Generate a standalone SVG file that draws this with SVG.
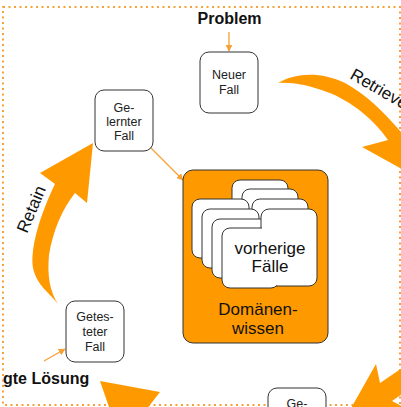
<svg xmlns="http://www.w3.org/2000/svg" width="401" height="407" viewBox="0 0 401 407">
<defs>
<style>
.node rect{fill:#fff;stroke:#333;stroke-width:1}
.t{font-family:"Liberation Sans",Arial,sans-serif;font-size:12.5px;fill:#222;text-anchor:middle}
.big{font-family:"Liberation Sans",Arial,sans-serif;font-size:17px;fill:#111;text-anchor:middle}
.lbl{font-family:"Liberation Sans",Arial,sans-serif;font-size:16px;font-weight:bold;fill:#111}
.phase{font-family:"Liberation Sans",Arial,sans-serif;font-size:17px;fill:#111}
.card{fill:#fff;stroke:#333;stroke-width:1}
.cardf{fill:#fff;stroke:none}
.bigarrow{fill:#FF9900;stroke:none}
.thin{stroke:#F7A035;stroke-width:1.3;fill:none}
</style>
<marker id="ah" viewBox="0 0 10 10" refX="9" refY="5" markerWidth="7" markerHeight="7" orient="auto" markerUnits="userSpaceOnUse">
<path d="M0,0 L10,5 L0,10 z" fill="#F7A035"/>
</marker>
</defs>
<rect width="401" height="407" fill="#fff"/>
<rect x="3" y="7" width="397" height="398" fill="none" stroke="#F6A13A" stroke-width="2" stroke-dasharray="2 3.5"/>

<g id="connectors">
<path class="bigarrow" d="M278,83 C295,73 320,71 345,83 C366,94 386,114 406,138 L425,190 L400,168 L362,147 L388,140 C375,121 352,101 327,92 C308,85 292,82 278,83 Z"/>
<path class="bigarrow" d="M58,304 C50,293 37,286 33,268 C30,248 40,215 55,184 L40,173 L93,143 L87,203 L75,193 C63,208 53,230 49,255 C47,276 50,292 58,304 Z"/>
<path class="bigarrow" d="M100,381 L160,392 L146,410 L110,410 Z"/>
<path class="bigarrow" d="M350,410 L376,364 L380,383 L405,366 L405,392 L392,401 L405,408 L405,410 Z"/>
<line class="thin" x1="229" y1="32" x2="229" y2="51" marker-end="url(#ah)"/>
<line class="thin" x1="150" y1="147" x2="183" y2="180" marker-end="url(#ah)"/>
<line class="thin" x1="44" y1="361" x2="65" y2="349" marker-end="url(#ah)"/>
</g>

<text class="lbl" x="229.5" y="24" text-anchor="middle">Problem</text>
<text class="lbl" x="3" y="384">gte Lösung</text>
<text class="phase" x="349" y="78" transform="rotate(30 349 78)">Retrieve</text>
<text class="phase" x="27" y="234" transform="rotate(-67 27 234)">Retain</text>

<g id="neuer-fall" class="node">
<rect x="200" y="52" width="58" height="61" rx="9"/>
<text class="t" x="229" y="79">Neuer</text>
<text class="t" x="229" y="94">Fall</text>
</g>

<g id="gelernter-fall" class="node">
<rect x="95" y="90" width="58" height="61" rx="9"/>
<text class="t" x="124" y="111.5">Ge-</text>
<text class="t" x="124" y="125.5">lernter</text>
<text class="t" x="124" y="139.5">Fall</text>
</g>

<g id="getesteter-fall" class="node">
<rect x="66" y="301" width="58" height="61" rx="9"/>
<text class="t" x="95" y="321">Getes-</text>
<text class="t" x="95" y="336">teter</text>
<text class="t" x="95" y="351">Fall</text>
</g>

<g id="ge-fall" class="node">
<rect x="268" y="388" width="58" height="61" rx="9"/>
<text class="t" x="297" y="408">Ge-</text>
</g>

<g id="domaenenwissen">
<rect x="183" y="170" width="145" height="173" rx="10" fill="#FF9900" stroke="#333" stroke-width="1"/>
<rect class="card" x="232" y="180" width="56" height="77" rx="8"/>
<rect class="card" x="242" y="189" width="56" height="77" rx="8"/>
<rect class="card" x="252" y="199" width="56" height="77" rx="8"/>
<rect class="card" x="192" y="199" width="57" height="59" rx="8"/>
<rect class="card" x="202" y="209" width="57" height="59" rx="8"/>
<rect class="card" x="212" y="219" width="57" height="59" rx="8"/>
<rect class="card" x="261" y="209" width="56" height="77" rx="8"/>
<rect class="card" x="222" y="228" width="57" height="60" rx="8"/>
<rect class="cardf" x="262" y="210" width="54" height="75" rx="7"/>
<rect class="cardf" x="223" y="229" width="55" height="58" rx="7"/>
<text class="big" x="270" y="254">vorherige</text>
<text class="big" x="270" y="272">Fälle</text>
<text class="big" x="258" y="315">Domänen-</text>
<text class="big" x="258" y="334">wissen</text>
</g>
</svg>
